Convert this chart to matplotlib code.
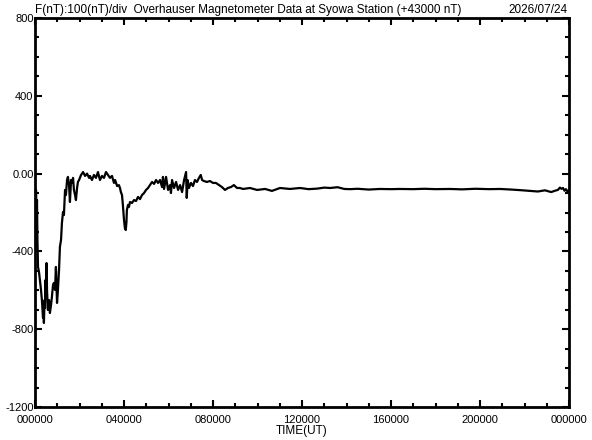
import matplotlib.pyplot as plt
from matplotlib.ticker import MultipleLocator

# F minus 43000 nT (hours UT)
hours = [0.00, 0.02, 0.045, 0.07, 0.09, 0.11, 0.135, 0.18, 0.22, 0.27,
         0.31, 0.36, 0.38, 0.40, 0.43, 0.45, 0.47, 0.49, 0.52, 0.54,
         0.58, 0.63, 0.67, 0.72, 0.76, 0.81, 0.85, 0.90, 0.94, 0.99,
         1.03, 1.08, 1.12, 1.17, 1.21, 1.26, 1.30, 1.35, 1.39, 1.44,
         1.48, 1.53, 1.57, 1.62, 1.66, 1.71, 1.75, 1.80, 1.84, 1.89,
         1.93, 1.98, 2.02, 2.07, 2.16, 2.25, 2.34, 2.43, 2.47, 2.56,
         2.65, 2.74, 2.83, 2.92, 3.01, 3.10, 3.19, 3.28, 3.37, 3.46,
         3.55, 3.60, 3.69, 3.77, 3.82, 3.86, 3.91, 3.95, 4.00, 4.04,
         4.08, 4.11, 4.13, 4.18, 4.22, 4.27, 4.36, 4.45, 4.54, 4.63,
         4.72, 4.81, 4.90, 4.99, 5.08, 5.17, 5.26, 5.35, 5.44, 5.53,
         5.62, 5.71, 5.75, 5.80, 5.89, 5.98, 6.07, 6.11, 6.16, 6.25,
         6.34, 6.43, 6.52, 6.61, 6.70, 6.79, 6.82, 6.86, 6.92, 7.01,
         7.10, 7.19, 7.28, 7.37, 7.45, 7.51, 7.59, 7.73, 7.86, 8.00,
         8.13, 8.27, 8.40, 8.54, 8.67, 8.81, 8.94, 9.08, 9.21, 9.35,
         9.66, 9.98, 10.34, 10.65, 11.01, 11.46, 11.91, 12.30, 12.70, 13.00,
         13.26, 13.60, 13.90, 14.16, 14.50, 15.00, 15.50, 16.00, 16.40, 17.00,
         17.50, 18.00, 18.65, 19.20, 19.80, 20.40, 20.90, 21.40, 21.80, 22.25,
         22.60, 22.92, 23.20, 23.37, 23.50, 23.59, 23.66, 23.73, 23.80, 23.86,
         23.93, 24.00]
field = [-74, -393, -84, -223, -136, -341, -480, -506, -547, -598,
         -650, -742, -675, -768, -650, -691, -547, -634, -460, -598,
         -701, -650, -717, -675, -634, -573, -562, -598, -480, -665,
         -598, -496, -377, -341, -254, -197, -213, -84, -110, -33,
         -17, -59, -146, -33, -48, -22, -84, -110, -136, -74,
         -43, -33, -22, -7, 8, -12, 0, -22, -12, -33,
         -7, -22, 8, -33, -12, -22, 8, -7, -22, -12,
         -48, -33, -64, -59, -74, -95, -110, -161, -238, -280,
         -290, -249, -187, -161, -172, -146, -151, -136, -141, -120,
         -131, -110, -100, -84, -74, -59, -43, -53, -33, -48,
         -33, -69, -17, -79, -17, -84, -59, -100, -33, -74,
         -43, -84, -59, -95, -33, 8, -125, -33, -74, -48,
         -64, -33, -43, -22, -7, -33, -38, -43, -38, -48,
         -48, -59, -69, -84, -74, -69, -59, -74, -74, -79,
         -74, -84, -79, -89, -74, -79, -74, -80, -77, -72,
         -74, -70, -79, -80, -78, -82, -79, -80, -79, -80,
         -78, -80, -79, -81, -78, -80, -79, -82, -85, -89,
         -92, -86, -95, -88, -84, -72, -78, -74, -88, -80,
         -92, -84]

ytick_vals = [-1200, -800, -400, 0, 400, 800]
ytick_text = ['-1200', '-800', '-400', '0.00', '400', '800']
xtick_vals = [0, 4, 8, 12, 16, 20, 24]
xtick_text = ['000000', '040000', '080000', '120000', '160000', '200000', '000000']

plt.rcParams['font.family'] = ['Liberation Sans', 'DejaVu Sans']

fig = plt.figure(figsize=(5.92, 4.40), dpi=100)
ax = fig.add_axes([35/592, 33/440, 534/592, 389/440])
ax.plot(hours, field, color='black', lw=1.6)

ax.set_xlim(0, 24)
ax.set_ylim(-1200, 800)
ax.set_xticks(xtick_vals)
ax.set_xticklabels(xtick_text, fontsize=8)
ax.set_yticks(ytick_vals)
ax.set_yticklabels(ytick_text, fontsize=8)
ax.xaxis.set_minor_locator(MultipleLocator(1))
ax.yaxis.set_minor_locator(MultipleLocator(100))
ax.tick_params(which='both', direction='in', top=True, right=True, width=1.5)
ax.tick_params(which='major', length=5, pad=6)
ax.tick_params(axis='y', which='major', pad=1)
ax.tick_params(which='minor', length=3)
for s in ax.spines.values():
    s.set_linewidth(2)

fig.text(35/592, 1 - 16/440,
         'F(nT):100(nT)/div  Overhauser Magnetometer Data at Syowa Station (+43000 nT)',
         ha='left', va='bottom', fontsize=8.5)
fig.text(568/592, 1 - 16/440, '2026/07/24', ha='right', va='bottom', fontsize=8.5)
fig.text(302/592, 1 - 431/440, 'TIME(UT)', ha='center', va='center', fontsize=8.5)

fig.savefig('out.png')
